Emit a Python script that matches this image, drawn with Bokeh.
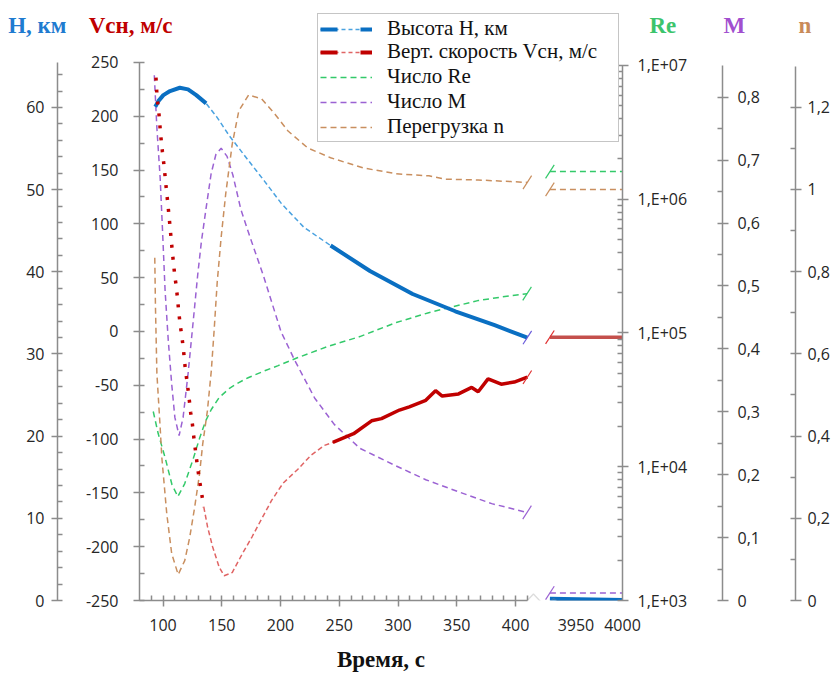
from bokeh.plotting import figure
from bokeh.layouts import column
from bokeh.models import (Range1d, LinearAxis, LogAxis, LogScale, FixedTicker,
                          Legend, LegendItem, PolyAnnotation)
from bokeh.embed import file_html
from bokeh.resources import INLINE

# ---------------- data ----------------
T_H = [93.4, 96.2, 100.3, 106.0, 114.3, 121.3, 128.3, 136.7, 146.0, 156.2, 172.9, 186.0,
       200.8, 220.0, 242.6, 276.1, 312.4, 348.7, 382.2, 410.0]
H_KM = [60.1, 60.8, 61.5, 62.0, 62.4, 62.2, 61.5, 60.5, 58.8, 56.6, 53.5, 51.1,
        48.3, 45.4, 43.2, 40.1, 37.3, 35.2, 33.5, 32.0]

T_V = [94.0, 95.0, 96.5, 98.0, 99.5, 101.0, 102.5, 104.0, 105.5, 107.0, 108.5, 110.0, 111.5,
       113.0, 114.5, 116.0, 117.5, 119.0, 120.5, 122.0, 123.5, 125.0, 126.5, 128.0, 129.5,
       131.0, 132.5, 134.7,
       138.0, 142.2, 147.8, 152.0, 158.9, 167.3, 175.7, 184.0, 192.4, 202.2, 214.8, 225.9,
       237.1, 244.5,
       262.2, 277.5, 285.9, 301.2, 309.6, 323.6, 331.9, 337.6, 351.5, 362.7, 368.2, 376.6,
       387.8, 398.9, 410.0]
V_MS = [236, 217, 203, 183, 167, 153, 136, 120, 103, 85, 68, 52, 40,
        23, 7, -4, -18, -35, -47, -60, -75, -86, -101, -114, -127,
        -138, -148, -163,
        -182, -200, -219, -227, -224, -207, -191, -174, -157, -141, -128, -115,
        -106, -103,
        -95, -83, -81, -73, -70, -64, -55, -60, -58, -52, -56, -44,
        -49, -47, -42.5]

T_RE = [91.7, 95.9, 101.8, 107.6, 112.6, 118.5, 125.2, 131.1, 136.1, 141.1, 147.8, 156.2,
        164.5, 172.9, 187.1, 198.0, 214.8, 239.9, 267.5, 298.5, 326.1, 367.9, 396.4, 409.8]
RE = [25900, 17700, 11700, 7360, 5980, 7480, 11100, 16300, 21800, 26800, 32900, 38400,
      42600, 46500, 52400, 57000, 65500, 79100, 94000, 119700, 141900, 174600, 190500, 196800]

T_M = [92.6, 94.8, 97.6, 99.5, 101.8, 104.5, 107.4, 110.1, 113.7, 117.1, 121.3, 125.5,
       129.6, 132.7, 136.7, 140.9, 145.0, 149.5, 154.5, 159.5, 166.2, 172.9, 178.8, 185.5,
       192.2, 200.5, 212.3, 229.0, 245.7, 267.5, 296.0, 323.6, 351.2, 379.7, 409.8]
MACH = [0.835, 0.751, 0.671, 0.592, 0.492, 0.413, 0.344, 0.291, 0.262, 0.291, 0.360, 0.440,
        0.519, 0.571, 0.624, 0.678, 0.709, 0.719, 0.706, 0.676, 0.622, 0.584, 0.552, 0.516,
        0.476, 0.427, 0.381, 0.322, 0.280, 0.242, 0.216, 0.192, 0.173, 0.154, 0.140]

T_N = [93.0, 93.6, 94.8, 97.6, 99.0, 103.2, 107.4, 112.9, 118.5, 122.7, 126.9, 131.1,
       133.8, 137.8, 141.1, 143.6, 146.1, 149.5, 153.4, 158.9, 164.5, 172.9, 184.0, 195.3,
       206.4, 223.1, 242.6, 270.6, 298.5, 326.3, 340.3, 368.2, 396.1, 410.0]
N_G = [0.834, 0.712, 0.552, 0.420, 0.348, 0.211, 0.114, 0.063, 0.097, 0.153, 0.226, 0.308,
       0.381, 0.462, 0.559, 0.661, 0.773, 0.884, 0.990, 1.110, 1.191, 1.230, 1.220, 1.183,
       1.142, 1.101, 1.077, 1.052, 1.038, 1.033, 1.025, 1.023, 1.019, 1.017]

# end of flight (after the axis break)
T_TAIL = [3922, 4000]
H_TAIL = [0.2, 0.05]
V_TAIL = [-5.3, -5.3]
RE_TAIL = [1.61e6, 1.61e6]
M_TAIL = [0.012, 0.012]
N_TAIL = [1.0, 1.0]

# ticks and tick labels
X_TICKS = [100, 150, 200, 250, 300, 350, 400]
X_TICK_LABELS = ["100", "150", "200", "250", "300", "350", "400"]
X2_TICKS = [3950, 4000]
X2_TICK_LABELS = ["3950", "4000"]
H_TICKS = [0, 10, 20, 30, 40, 50, 60]
H_TICK_LABELS = ["0", "10", "20", "30", "40", "50", "60"]
V_TICKS = [-250, -200, -150, -100, -50, 0, 50, 100, 150, 200, 250]
V_TICK_LABELS = ["-250", "-200", "-150", "-100", "-50", "0", "50", "100", "150", "200", "250"]
RE_TICKS = [1000, 10000, 100000, 1000000, 10000000]
RE_TICK_LABELS = ["1,E+03", "1,E+04", "1,E+05", "1,E+06", "1,E+07"]
M_TICKS = [0, 0.1, 0.2, 0.3, 0.4, 0.5, 0.6, 0.7, 0.8]
M_TICK_LABELS = ["0", "0,1", "0,2", "0,3", "0,4", "0,5", "0,6", "0,7", "0,8"]
N_TICKS = [0, 0.2, 0.4, 0.6, 0.8, 1, 1.2]
N_TICK_LABELS = ["0", "0,2", "0,4", "0,6", "0,8", "1", "1,2"]

LEGEND_LABELS = ["Высота H, км", "Верт. скорость Vсн, м/с", "Число Re", "Число M", "Перегрузка n"]
X_TITLE = "Время, с"

# ---------------- styling constants ----------------
C_H, C_H_THIN = "#0a6fc2", "#4aa2e0"
C_V, C_V_THIN, C_V_TAIL = "#c00000", "#e06464", "#c4504c"
C_RE, C_M, C_N = "#33c96a", "#9b62d3", "#c98f5f"
GRAY = "#8c8c8c"
TXT = "#262626"
TICK_FONT = "Open Sans"
SERIF = "Liberation Serif"

H_THICK_END, H_THICK_START = 137.0, 242.0
V_DOT_END, V_THICK_START = 134.7, 244.5

W = 832
TOP_H = 41                 # strip with the axis titles
MAIN_H = 675 - TOP_H
TITLE_Y = TOP_H - 25
LEG_TOP = 16               # legend top edge, px from the top of the page
LEG_BOTTOM = 142           # legend bottom edge
LEG_PAD = 2
LEG_FONT = 21
LEG_ROW = 24.4             # row height for the legend font


def part(ts, vs, lo, hi):
    sel = [(t, v) for t, v in zip(ts, vs) if lo <= t <= hi]
    return [s[0] for s in sel], [s[1] for s in sel]


def make_legend(fig, first, last, loc):
    # hidden copies of the series, only used to draw the legend samples
    kw = dict(visible=False)
    lh1 = fig.line(T_H, H_KM, line_color=C_H_THIN, line_width=1.5, line_dash="4 3", **kw)
    lh2 = fig.line(T_H, H_KM, line_color=C_H, line_width=4, line_dash="17 23 12 50", **kw)
    lv1 = fig.line(T_V, V_MS, line_color=C_V_THIN, line_width=1.5, line_dash="4 3", **kw)
    lv2 = fig.line(T_V, V_MS, line_color=C_V, line_width=4, line_dash="17 23 12 50", **kw)
    lre = fig.line(T_RE, RE, line_color=C_RE, line_width=1.5, line_dash="6 4", **kw)
    lm = fig.line(T_M, MACH, line_color=C_M, line_width=1.5, line_dash="6 4", **kw)
    ln = fig.line(T_N, N_G, line_color=C_N, line_width=1.5, line_dash="6 4", **kw)
    groups = [[lh1, lh2], [lv1, lv2], [lre], [lm], [ln]]
    items = [LegendItem(label=lab, renderers=g) for lab, g in zip(LEGEND_LABELS, groups)]
    leg = Legend(items=items[first:last],
                 location=loc, label_text_font=SERIF, label_text_font_size=f"{LEG_FONT}px",
                 label_text_color="#111111",
                 glyph_width=52, glyph_height=20, label_height=20, label_width=229,
                 spacing=0, padding=LEG_PAD, margin=0, label_standoff=15,
                 inactive_fill_alpha=0.0,
                 border_line_color=GRAY, border_line_width=1.5, background_fill_alpha=1.0)
    fig.add_layout(leg)


# ---------------- top strip: axis titles + upper part of the legend box ----------------
top = figure(width=W, height=TOP_H, output_backend="svg", toolbar_location=None,
             x_range=Range1d(0, 1), y_range=Range1d(0, TOP_H),
             x_axis_location=None, y_axis_location=None, min_border=0)
top.outline_line_color = None
top.grid.visible = False


def title_axis(side, text, color, standoff):
    ax = LinearAxis(ticker=FixedTicker(ticks=[TITLE_Y], minor_ticks=[]),
                    major_label_overrides={TITLE_Y: text})
    ax.axis_line_color = None
    ax.major_tick_in = 0
    ax.major_tick_out = 0
    ax.minor_tick_in = 0
    ax.minor_tick_out = 0
    ax.major_label_text_font = SERIF
    ax.major_label_text_font_style = "bold"
    ax.major_label_text_font_size = "23px"
    ax.major_label_text_color = color
    ax.major_label_standoff = standoff
    top.add_layout(ax, side)


title_axis("left", "Vсн, м/с", "#c00000", -33)
title_axis("left", "H, км", "#1f7bd0", 19)
title_axis("right", "Re", "#3cc46c", 27)
title_axis("right", "M", "#a24fcf", 44)
title_axis("right", "n", "#c98a5a", 50)
# first legend row lives in the strip; the box continues below (clipped at the strip edge)
top_leg_h = 2 * LEG_PAD + LEG_ROW
make_legend(top, 0, 1, (178, TOP_H - (LEG_TOP + top_leg_h)))

# ---------------- main plot ----------------
p = figure(width=W, height=MAIN_H, output_backend="svg", toolbar_location=None,
           x_range=Range1d(80, 491), y_range=Range1d(-250, 269.5),
           x_axis_location=None, y_axis_location=None,
           min_border_left=139, min_border_right=W - 630, min_border_top=0, min_border_bottom=75)
p.outline_line_color = None
p.grid.visible = False
p.extra_x_ranges = {"tail": Range1d(3481, 4000)}
p.extra_y_ranges = {"h": Range1d(0, 68.03), "re": Range1d(1000, 1.511e7),
                    "m": Range1d(0, 0.8886), "n": Range1d(0, 1.3598)}
p.extra_y_scales = {"re": LogScale()}


def style(ax, standoff, pad=None):
    ax.axis_line_color = GRAY
    ax.axis_line_width = 1.5
    ax.major_tick_line_color = GRAY
    ax.major_tick_line_width = 1.5
    ax.minor_tick_line_color = GRAY
    ax.minor_tick_line_width = 1.5
    ax.major_tick_in = 5
    ax.major_tick_out = 6
    ax.minor_tick_in = 5
    ax.minor_tick_out = 0
    ax.major_label_text_font = TICK_FONT
    ax.major_label_text_font_size = "16px"
    ax.major_label_text_color = TXT
    ax.major_label_standoff = standoff
    if pad is not None:
        ax.axis_label = " "
        ax.axis_label_text_font_size = "10px"
        ax.axis_label_standoff = pad


v_ax = LinearAxis(ticker=FixedTicker(ticks=V_TICKS, minor_ticks=[-225, -175, -125, -75, -25, 25, 75, 125, 175, 225]),
                  bounds=(-250, 250), major_label_overrides=dict(zip(V_TICKS, V_TICK_LABELS)))
style(v_ax, 15, 11)
h_ax = LinearAxis(y_range_name="h",
                  ticker=FixedTicker(ticks=H_TICKS, minor_ticks=[v for v in range(2, 65, 2) if v % 10]),
                  bounds=(0, 65.5), major_label_overrides=dict(zip(H_TICKS, H_TICK_LABELS)))
style(h_ax, 7)
p.add_layout(v_ax, "left")
p.add_layout(h_ax, "left")

re_minor = [k * 10 ** d for d in range(3, 7) for k in range(2, 10)]
re_ax = LogAxis(y_range_name="re", ticker=FixedTicker(ticks=RE_TICKS, minor_ticks=re_minor),
                bounds=(1000, 10000000), major_label_overrides=dict(zip(RE_TICKS, RE_TICK_LABELS)))
style(re_ax, 9, 18)
m_ax = LinearAxis(y_range_name="m",
                  ticker=FixedTicker(ticks=M_TICKS, minor_ticks=[0.05, 0.15, 0.25, 0.35, 0.45, 0.55, 0.65, 0.75]),
                  bounds=(0, 0.85), major_label_overrides=dict(zip(M_TICKS, M_TICK_LABELS)))
style(m_ax, 9, 19)
n_ax = LinearAxis(y_range_name="n",
                  ticker=FixedTicker(ticks=N_TICKS, minor_ticks=[0.1, 0.3, 0.5, 0.7, 0.9, 1.1]),
                  bounds=(0, 1.3), major_label_overrides=dict(zip(N_TICKS, N_TICK_LABELS)))
style(n_ax, 6)
p.add_layout(re_ax, "right")
p.add_layout(m_ax, "right")
p.add_layout(n_ax, "right")

x_ax = LinearAxis(ticker=FixedTicker(ticks=X_TICKS, minor_ticks=[v for v in range(90, 411, 10) if v % 50]),
                  bounds=(80, 410), major_label_overrides=dict(zip(X_TICKS, X_TICK_LABELS)))
style(x_ax, 12)
x2_ax = LinearAxis(x_range_name="tail", ticker=FixedTicker(ticks=X2_TICKS, minor_ticks=[]),
                   major_label_overrides=dict(zip(X2_TICKS, X2_TICK_LABELS)))
style(x2_ax, -15)
x2_ax.axis_line_color = None
x2_ax.major_tick_in = 0
x2_ax.major_tick_out = 0
x2_ax.minor_tick_in = 0
x2_ax.minor_tick_out = 0
x2_ax.axis_label = X_TITLE
x2_ax.axis_label_text_font = SERIF
x2_ax.axis_label_text_font_style = "bold"
x2_ax.axis_label_text_font_size = "23px"
x2_ax.axis_label_text_color = "#111111"
x2_ax.axis_label_standoff = 13
p.add_layout(x_ax, "below")
p.add_layout(x2_ax, "below")

# axis line of the part after the break, and the break zig-zag
p.line([3929, 4000], [-250, -250], x_range_name="tail", line_color=GRAY, line_width=3)
p.add_layout(PolyAnnotation(xs=[410, 415.2, 425.3, 432.4, 434.9, 432.4, 425.3, 415.2],
                            ys=[-250, -244, -255.6, -248.1, -250, -248.1, -255.6, -244],
                            fill_color=None, line_color=GRAY, line_width=1.3))

# ---------------- series ----------------
p.line(T_RE, RE, y_range_name="re", line_color=C_RE, line_width=1.5, line_dash="6 4")
p.line(T_M, MACH, y_range_name="m", line_color=C_M, line_width=1.5, line_dash="6 4")
p.line(T_N, N_G, y_range_name="n", line_color=C_N, line_width=1.5, line_dash="6 4")

p.line(T_H, H_KM, y_range_name="h", line_color=C_H_THIN, line_width=1.5, line_dash="5 3")
for lo, hi in ((0, H_THICK_END), (H_THICK_START, 1000)):
    tx, vy = part(T_H, H_KM, lo, hi)
    p.line(tx, vy, y_range_name="h", line_color=C_H, line_width=4)

tx, vy = part(T_V, V_MS, 0, V_DOT_END)
p.line(tx, vy, line_color=C_V, line_width=3.5, line_dash="3 9")
tx, vy = part(T_V, V_MS, V_DOT_END, V_THICK_START)
p.line(tx, vy, line_color=C_V_THIN, line_width=1.5, line_dash="5 3")
tx, vy = part(T_V, V_MS, V_THICK_START, 1000)
p.line(tx, vy, line_color=C_V, line_width=3.5)

p.line(T_TAIL, H_TAIL, x_range_name="tail", y_range_name="h", line_color=C_H, line_width=4)
p.line(T_TAIL, V_TAIL, x_range_name="tail", line_color=C_V_TAIL, line_width=3.5)
p.line(T_TAIL, RE_TAIL, x_range_name="tail", y_range_name="re", line_color=C_RE, line_width=1.5, line_dash="6 4")
p.line(T_TAIL, M_TAIL, x_range_name="tail", y_range_name="m", line_color=C_M, line_width=1.5, line_dash="6 4")
p.line(T_TAIL, N_TAIL, x_range_name="tail", y_range_name="n", line_color=C_N, line_width=1.5, line_dash="6 4")


def slash(x, y, color, **kw):
    p.scatter(x=[x], y=[y], marker="dash", size=16, angle=1.0, line_color=color, line_width=1.2, **kw)


slash(T_H[-1], H_KM[-1], "#6a5cdb", y_range_name="h")
slash(T_V[-1], V_MS[-1], "#e03030")
slash(T_RE[-1], RE[-1], C_RE, y_range_name="re")
slash(T_M[-1], MACH[-1], C_M, y_range_name="m")
slash(T_N[-1], N_G[-1], C_N, y_range_name="n")
slash(T_TAIL[0], V_TAIL[0], "#e03030", x_range_name="tail")
slash(T_TAIL[0], RE_TAIL[0], C_RE, x_range_name="tail", y_range_name="re")
slash(T_TAIL[0], M_TAIL[0], C_M, x_range_name="tail", y_range_name="m")
slash(T_TAIL[0], N_TAIL[0], C_N, x_range_name="tail", y_range_name="n")

# remaining four legend rows; the top edge of this box is hidden above the plot frame
make_legend(p, 1, 5, (178, 600 - LEG_BOTTOM))

layout = column(top, p, spacing=0)
open("out.html", "w").write(file_html(layout, INLINE))
